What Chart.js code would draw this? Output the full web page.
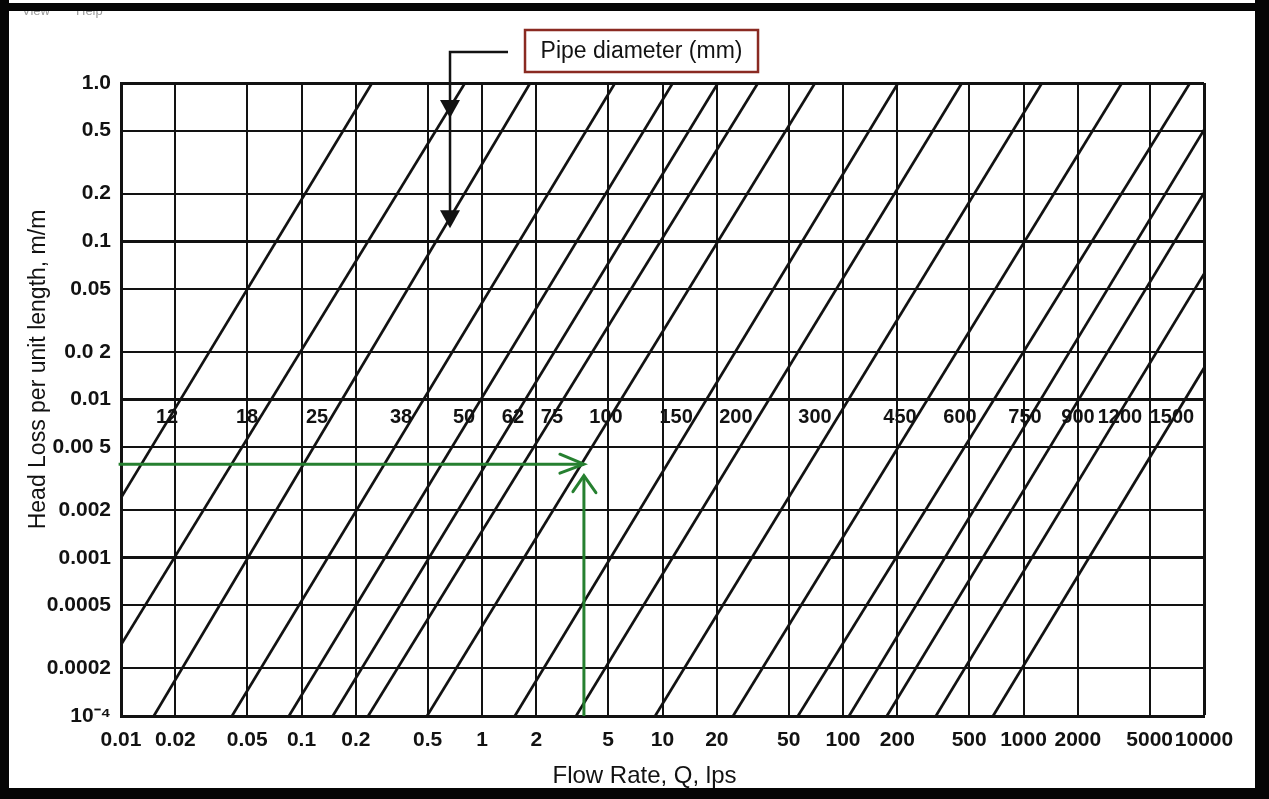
<!DOCTYPE html>
<html>
<head>
<meta charset="utf-8">
<script src="https://cdn.jsdelivr.net/npm/chart.js@4.4.1/dist/chart.umd.min.js"></script>
<style>
  html, body { margin: 0; padding: 0; background: #fff; }
  #wrap { position: relative; width: 1269px; height: 799px; }
</style>
</head>
<body>
<div id="wrap"><canvas id="c" width="1269" height="799"></canvas></div>
<script>
// Pipe diameters (mm): one head-loss line per diameter
const pipeDiameters = [12, 18, 25, 38, 50, 62, 75, 100, 150, 200, 300, 450, 600, 750, 900, 1200, 1500];

// Each line runs between two points on the plot border (flow in l/s, head loss in m/m)
const lineStartFlow = [0.01, 0.01, 0.0152, 0.0412, 0.0852, 0.149, 0.234, 0.496, 1.52, 3.32, 9.1, 24.6, 56.3, 108, 175, 327, 678];
const lineStartLoss = [0.00239, 0.000282, 1e-4, 1e-4, 1e-4, 1e-4, 1e-4, 1e-4, 1e-4, 1e-4, 1e-4, 1e-4, 1e-4, 1e-4, 1e-4, 1e-4, 1e-4];
const lineEndFlow = [0.246, 0.805, 1.85, 5.46, 11.4, 20.3, 33.8, 70, 202, 456, 1266, 3510, 8365, 10000, 10000, 10000, 10000];
const lineEndLoss = [1, 1, 1, 1, 1, 1, 1, 1, 1, 1, 1, 1, 1, 0.505, 0.202, 0.0621, 0.0158];

// Diameter labels sit in the row just under the 0.01 gridline
const labelFlow = [0.018, 0.0499, 0.122, 0.356, 0.795, 1.485, 2.44, 4.86, 11.9, 25.5, 70, 207, 445, 1019, 2004, 3424, 6647];
const labelLoss = 0.0077;

// Axis ticks
const flowTicks = [0.01, 0.02, 0.05, 0.1, 0.2, 0.5, 1, 2, 5, 10, 20, 50, 100, 200, 500, 1000, 2000, 5000, 10000];
const flowTickLabels = ['0.01', '0.02', '0.05', '0.1', '0.2', '0.5', '1', '2', '5', '10', '20', '50', '100', '200', '500', '1000', '2000', '5000', '10000'];
const lossTicks = [1e-4, 2e-4, 5e-4, 1e-3, 2e-3, 5e-3, 0.01, 0.02, 0.05, 0.1, 0.2, 0.5, 1];
const lossTickLabels = ['10\u207B\u2074', '0.0002', '0.0005', '0.001', '0.002', '0.00 5', '0.01', '0.0 2', '0.05', '0.1', '0.2', '0.5', '1.0'];

// Axis titles
const xTitle = 'Flow Rate, Q, lps';
const yTitle = 'Head Loss per unit length, m/m';
const boxTitle = 'Pipe diameter (mm)';

// Worked example on the 100 mm line
const exampleLoss = 0.0039;    // head loss read across
const exampleFlow = 3.67;      // flow read down
const exampleLossTip = 0.0033; // where the upward arrow stops

// Pointer from the legend box down to the diameter lines
const pointerFlow = 0.665;
const pointerTips = [0.60, 0.121];

const FONT = '"Liberation Sans", Arial, Helvetica, sans-serif';
const INK = '#121212';
const GREEN = 'rgb(38,128,48)';

const datasets = [];
// green example lines first so they sit on top
datasets.push({
  data: [{ x: 0.0097, y: exampleLoss }, { x: exampleFlow, y: exampleLoss }],
  borderColor: GREEN, borderWidth: 3, pointRadius: 0, clip: false
});
datasets.push({
  data: [{ x: exampleFlow, y: 1e-4 }, { x: exampleFlow, y: exampleLossTip }],
  borderColor: GREEN, borderWidth: 3, pointRadius: 0
});
pipeDiameters.forEach((d, i) => {
  datasets.push({
    label: String(d),
    data: [{ x: lineStartFlow[i], y: lineStartLoss[i] }, { x: lineEndFlow[i], y: lineEndLoss[i] }],
    borderColor: INK, borderWidth: 2.7, pointRadius: 0
  });
});

function isDecade(v) {
  const l = Math.log10(v);
  return Math.abs(l - Math.round(l)) < 1e-6;
}

const decorations = {
  id: 'decorations',
  beforeDraw(chart) {
    const ctx = chart.ctx, W = chart.width, H = chart.height;
    ctx.save();
    ctx.fillStyle = '#fff';
    ctx.fillRect(0, 0, W, H);
    // faint menu text peeking under the top frame
    ctx.fillStyle = '#9a9a9a';
    ctx.font = '13px ' + FONT;
    ctx.textBaseline = 'alphabetic';
    ctx.fillText('View', 22, 15);
    ctx.fillText('Help', 76, 15);
    // black frame around the page
    ctx.fillStyle = '#050505';
    ctx.fillRect(0, 0, 9, H);
    ctx.fillRect(W - 14, 0, 14, H);
    ctx.fillRect(0, 3, W, 8);
    ctx.fillRect(0, H - 11, W, 11);
    ctx.restore();
  },
  afterDatasetsDraw(chart) {
    const ctx = chart.ctx;
    const xs = chart.scales.x, ys = chart.scales.y;
    const area = chart.chartArea;
    ctx.save();

    // diameter labels
    ctx.fillStyle = INK;
    ctx.font = 'bold 20px ' + FONT;
    ctx.textAlign = 'center';
    ctx.textBaseline = 'middle';
    const ly = ys.getPixelForValue(labelLoss);
    pipeDiameters.forEach((d, i) => {
      ctx.fillText(String(d), xs.getPixelForValue(labelFlow[i]), ly);
    });

    // green open arrowheads
    ctx.strokeStyle = GREEN;
    ctx.lineWidth = 3;
    ctx.lineCap = 'round';
    const hx = xs.getPixelForValue(exampleFlow), hy = ys.getPixelForValue(exampleLoss);
    ctx.beginPath();
    ctx.moveTo(hx - 24, hy - 10); ctx.lineTo(hx, hy); ctx.lineTo(hx - 24, hy + 9);
    ctx.stroke();
    const vy = ys.getPixelForValue(exampleLossTip);
    ctx.beginPath();
    ctx.moveTo(hx - 11, vy + 16); ctx.lineTo(hx, vy); ctx.lineTo(hx + 12, vy + 17);
    ctx.stroke();

    // pointer from the box to the diameter lines
    const px = xs.getPixelForValue(pointerFlow);
    const topY = area.top - 31;
    const tip1 = ys.getPixelForValue(pointerTips[0]);
    const tip2 = ys.getPixelForValue(pointerTips[1]);
    ctx.strokeStyle = INK;
    ctx.fillStyle = INK;
    ctx.lineWidth = 2.5;
    ctx.lineCap = 'butt';
    ctx.beginPath();
    ctx.moveTo(px + 58, topY); ctx.lineTo(px, topY); ctx.lineTo(px, tip2 - 10);
    ctx.stroke();
    [tip1, tip2].forEach(t => {
      ctx.beginPath();
      ctx.moveTo(px - 10, t - 18); ctx.lineTo(px + 10, t - 18); ctx.lineTo(px, t);
      ctx.closePath();
      ctx.fill();
    });

    // legend box
    const bx = px + 75, by = area.top - 53, bw = 233, bh = 42;
    ctx.fillStyle = '#fff';
    ctx.fillRect(bx, by, bw, bh);
    ctx.strokeStyle = '#8a2a22';
    ctx.lineWidth = 2.5;
    ctx.strokeRect(bx, by, bw, bh);
    ctx.fillStyle = INK;
    ctx.font = '23px ' + FONT;
    ctx.textAlign = 'center';
    ctx.textBaseline = 'middle';
    ctx.fillText(boxTitle, bx + bw / 2, by + bh / 2 + 1);

    // axis titles
    ctx.font = '24px ' + FONT;
    ctx.textBaseline = 'middle';
    ctx.fillText(xTitle, (area.left + area.right) / 2 - 18, area.bottom + 60);
    ctx.save();
    ctx.translate(39, (area.top + area.bottom) / 2 - 30);
    ctx.rotate(-Math.PI / 2);
    ctx.font = '23px ' + FONT;
    ctx.fillText(yTitle, 0, 0);
    ctx.restore();
    ctx.restore();
  }
};

new Chart(document.getElementById('c'), {
  type: 'line',
  data: { datasets },
  options: {
    responsive: false,
    animation: false,
    parsing: false,
    normalized: true,
    layout: { padding: { top: 83, right: 65, left: 0, bottom: 0 } },
    plugins: { legend: { display: false }, tooltip: { enabled: false } },
    scales: {
      x: {
        type: 'logarithmic',
        min: 0.01, max: 10000,
        afterBuildTicks: s => { s.ticks = flowTicks.map(v => ({ value: v })); },
        afterFit: s => { s.height = 83; },
        ticks: {
          autoSkip: false, maxRotation: 0, minRotation: 0, padding: 12,
          color: INK, font: { family: FONT, size: 21, weight: 'bold' },
          callback: (v, i) => flowTickLabels[i]
        },
        grid: { color: INK, lineWidth: c => (c.tick && c.tick.value === 10000 ? 3 : 2), drawTicks: false },
        border: { display: true, color: INK, width: 3 },
        title: { display: false }
      },
      y: {
        type: 'logarithmic',
        min: 1e-4, max: 1,
        afterBuildTicks: s => { s.ticks = lossTicks.map(v => ({ value: v })); },
        afterFit: s => { s.width = 121; },
        ticks: {
          autoSkip: false, padding: 10,
          color: INK, font: { family: FONT, size: 21, weight: 'bold' },
          callback: (v, i) => lossTickLabels[i]
        },
        grid: { color: INK, lineWidth: c => (c.tick && isDecade(c.tick.value) ? 3 : 2), drawTicks: false },
        border: { display: true, color: INK, width: 3 },
        title: { display: false }
      }
    }
  },
  plugins: [decorations]
});
</script>
</body>
</html>
